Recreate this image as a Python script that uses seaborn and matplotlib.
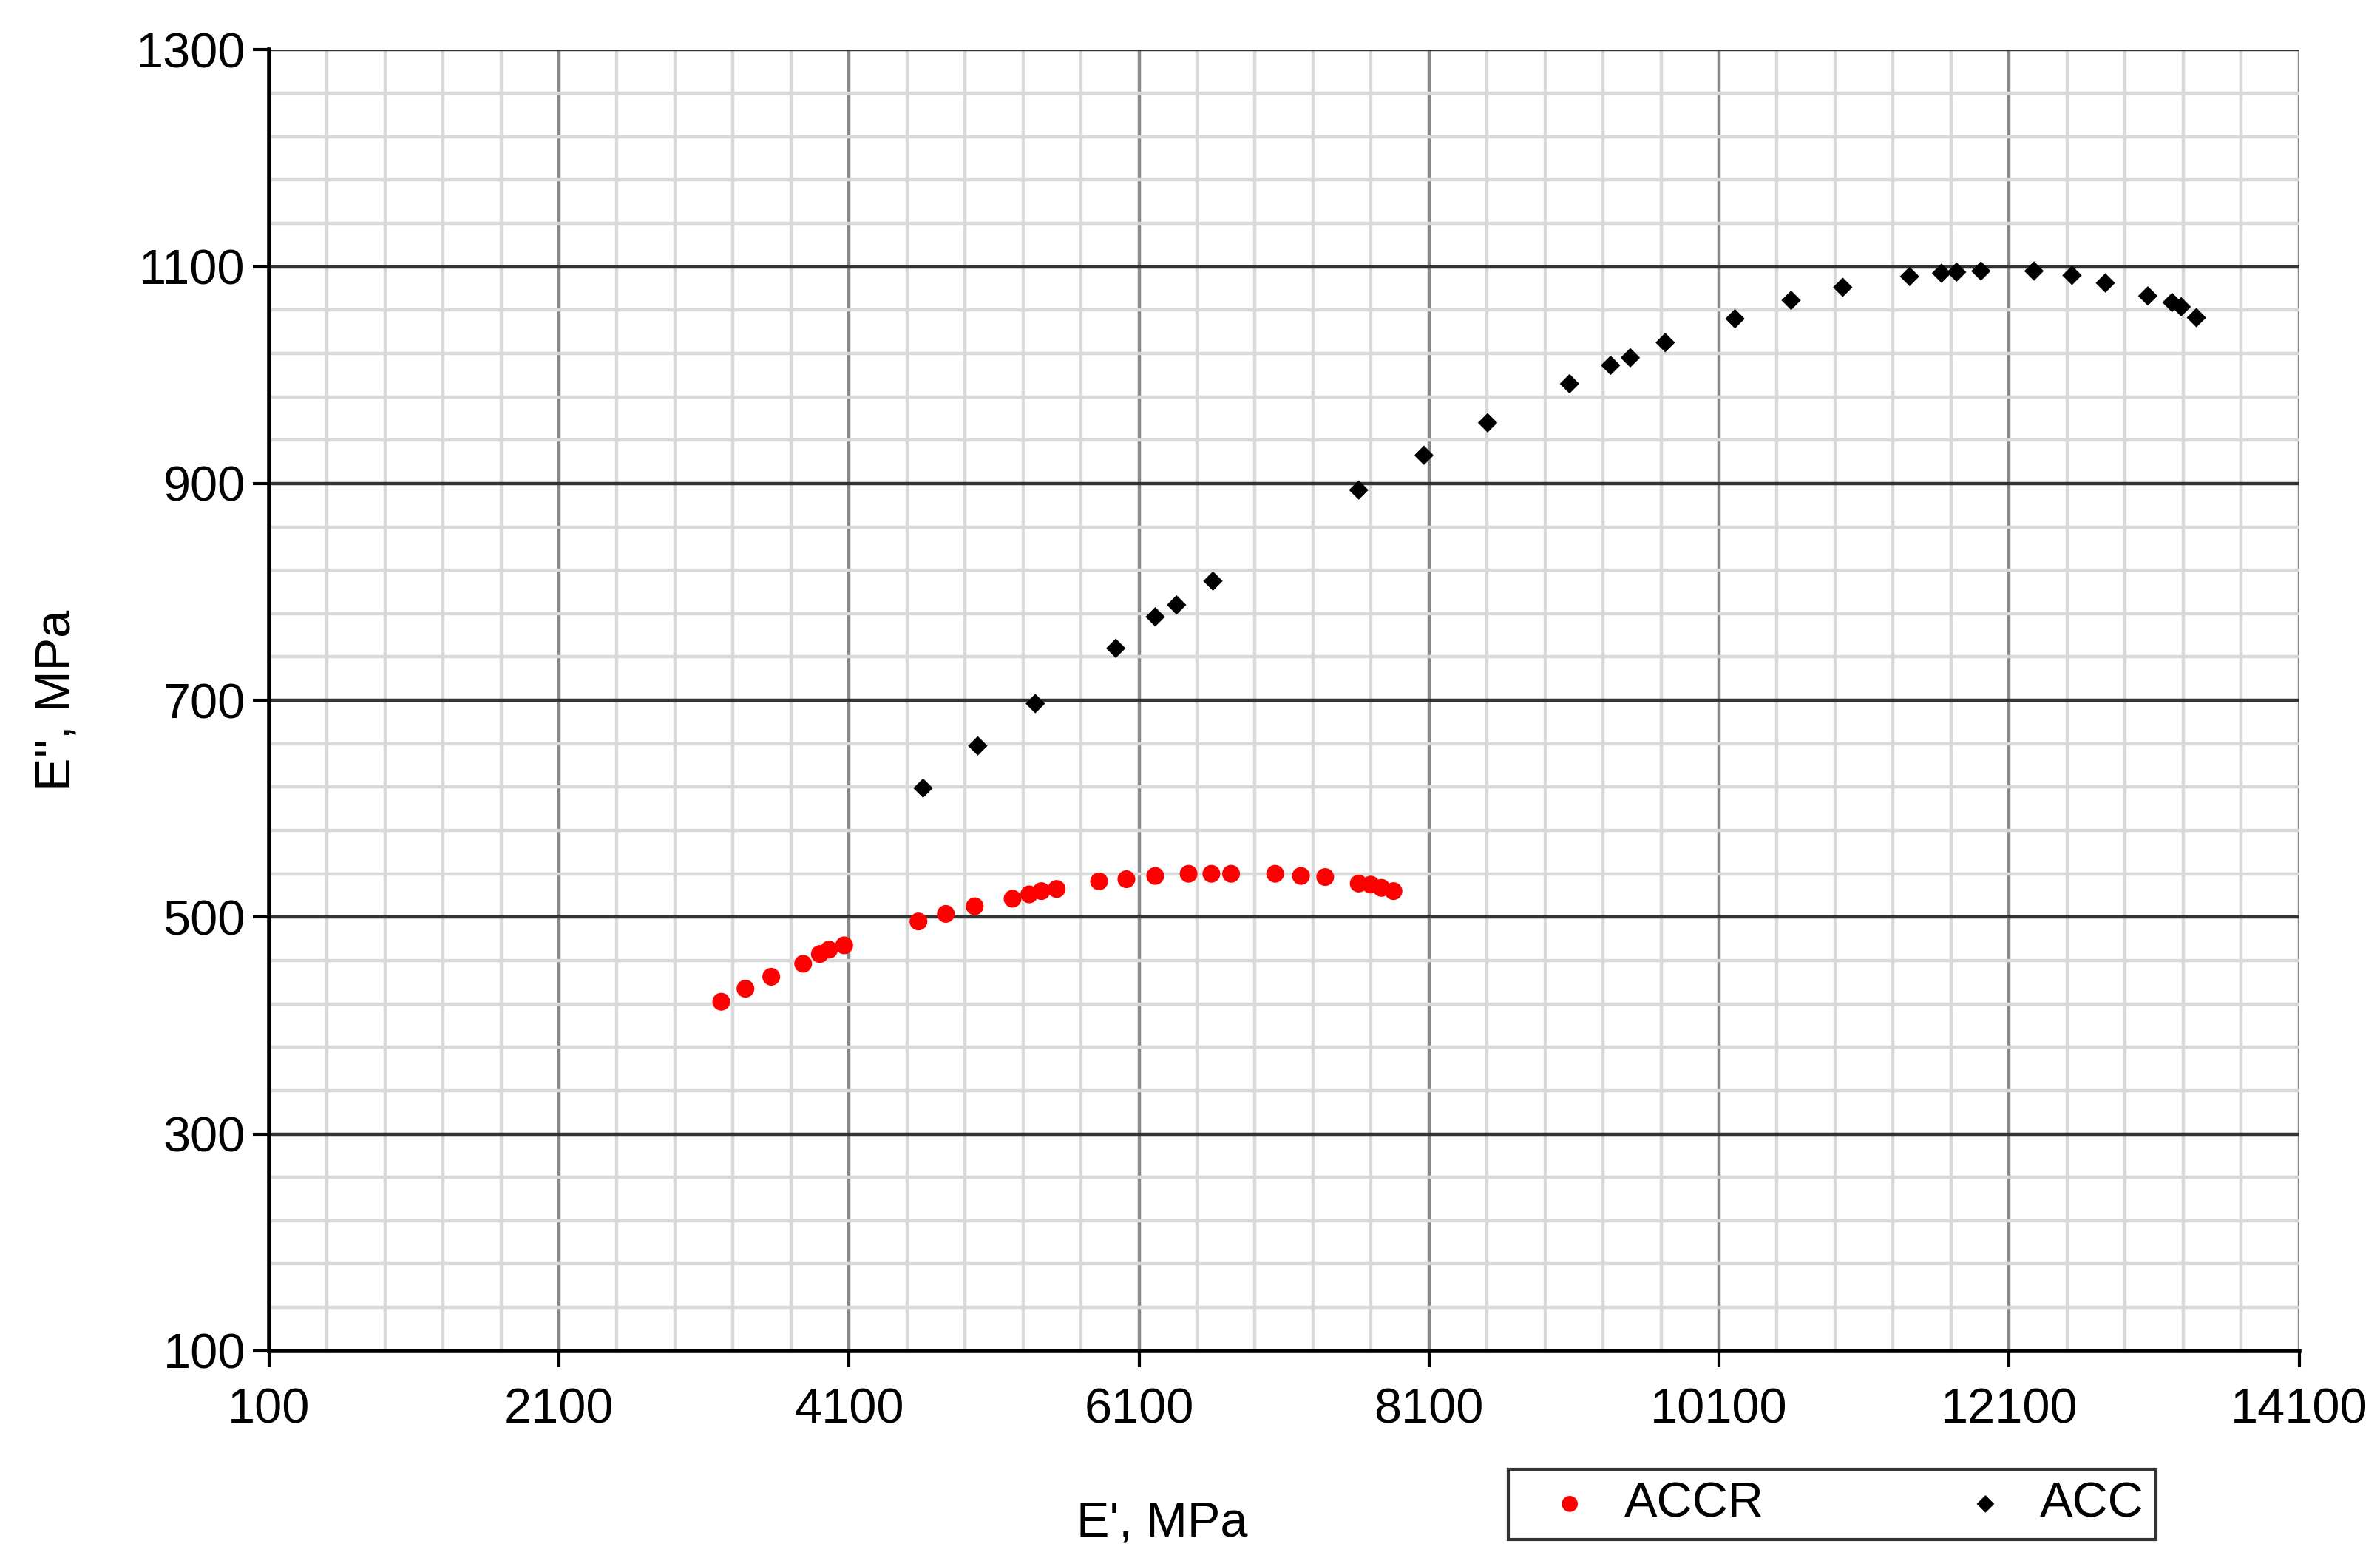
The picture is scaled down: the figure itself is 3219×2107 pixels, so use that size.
import matplotlib
matplotlib.use("Agg")
import matplotlib.pyplot as plt
import seaborn as sns
import pandas as pd
from matplotlib.ticker import MultipleLocator

accr_x = [3219, 3386, 3564, 3784, 3899, 3962, 4067, 4579, 4768, 4967, 5228, 5343, 5427, 5532,
          5825, 6013, 6212, 6442, 6599, 6735, 7039, 7217, 7384, 7615, 7698, 7772, 7855]
accr_y = [422, 434, 445, 457, 466, 470, 474, 496, 503, 510, 517, 521, 524, 526,
          533, 535, 538, 540, 540, 540, 540, 538, 537, 531, 530, 527, 524]
acc_x = [4611, 4988, 5385, 5940, 6212, 6359, 6610, 7615, 8065, 8504, 9069, 9352, 9488, 9729,
         10210, 10597, 10953, 11414, 11634, 11738, 11906, 12272, 12534, 12764, 13057, 13224, 13287, 13392]
acc_y = [619, 658, 697, 748, 777, 788, 810, 894, 926, 956, 992, 1009, 1016, 1030,
         1052, 1069, 1081, 1091, 1094, 1095, 1096, 1096, 1092, 1085, 1073, 1067, 1063, 1053]

sns.set_style("white")
plt.rcParams['font.family'] = ['Liberation Sans', 'DejaVu Sans']
plt.rcParams['text.color'] = 'black'
plt.rcParams['axes.labelcolor'] = 'black'
plt.rcParams['xtick.color'] = 'black'
plt.rcParams['ytick.color'] = 'black'

fig = plt.figure(figsize=(16.095, 10.535), dpi=200)
ax = fig.add_axes([0.113, 0.133, 0.853, 0.835])

df = pd.concat([
    pd.DataFrame({"x": accr_x, "y": accr_y, "s": "ACCR"}),
    pd.DataFrame({"x": acc_x, "y": acc_y, "s": "ACC"}),
])
sns.scatterplot(data=df[df.s == "ACCR"], x="x", y="y", color="#ff0000", marker="o", s=75,
                edgecolor="none", ax=ax, label="ACCR", zorder=3)
sns.scatterplot(data=df[df.s == "ACC"], x="x", y="y", color="black", marker="D", s=45,
                edgecolor="none", ax=ax, label="ACC", zorder=3)

ax.set_xlim(100, 14100)
ax.set_ylim(100, 1300)
ax.xaxis.set_major_locator(MultipleLocator(2000, offset=100))
ax.xaxis.set_minor_locator(MultipleLocator(400, offset=100))
ax.yaxis.set_major_locator(MultipleLocator(200, offset=100))
ax.yaxis.set_minor_locator(MultipleLocator(40, offset=20))
ax.grid(which="minor", color="#d9d9d9", lw=1.6, zorder=0)
ax.grid(which="major", axis="x", color="#888888", lw=1.6, zorder=0)
ax.grid(which="major", axis="y", color="#333333", lw=1.6, zorder=0)
ax.set_axisbelow(True)
for side in ["top", "right"]:
    ax.spines[side].set_visible(False)
for side in ["left", "bottom"]:
    ax.spines[side].set_color("black")
    ax.spines[side].set_linewidth(2)
ax.tick_params(which="major", labelsize=24, length=8, width=1.5, direction="out", left=True, bottom=True)
ax.tick_params(axis="x", pad=10)
ax.set_xlabel("E', MPa", fontsize=24)
ax.set_ylabel("E'', MPa", fontsize=24)
ax.xaxis.set_label_coords(0.44, -0.115)
ax.yaxis.set_label_coords(-0.093, 0.5)

leg = ax.legend(loc="center", bbox_to_anchor=(0.77, -0.118), ncol=2, fontsize=24, frameon=True,
                fancybox=False, edgecolor="black", handletextpad=0.1, columnspacing=3.5,
                borderpad=0.25, markerscale=0.9)
leg.get_frame().set_linewidth(1.5)
fig.savefig("out.png", dpi=200, facecolor="white")
